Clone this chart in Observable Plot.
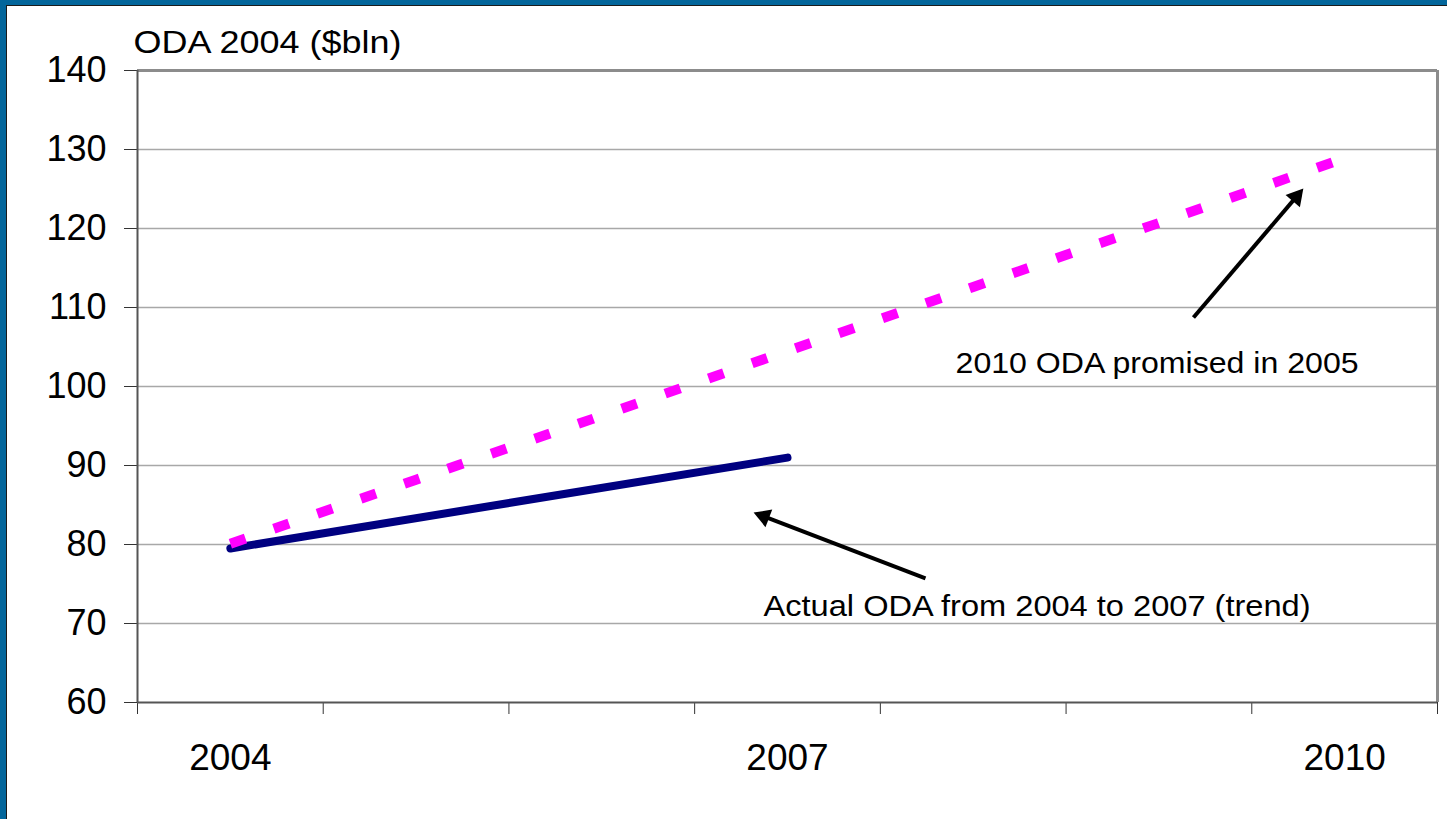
<!DOCTYPE html>
<html><head><meta charset="utf-8">
<script src="https://cdn.jsdelivr.net/npm/d3@7"></script>
<script src="https://cdn.jsdelivr.net/npm/@observablehq/plot@0.6"></script>
<style>
html,body{margin:0;padding:0;background:#fff;}
#frame{width:1447px;height:819px;box-sizing:border-box;border-left:6px solid #03669b;border-top:5px solid #03669b;overflow:hidden}
#inner{width:100%;height:100%;box-sizing:border-box;border-left:1px solid #1b1b1b;border-top:1px solid #1b1b1b;}
svg{display:block}
</style></head><body><div id="frame"><div id="inner"></div></div>
<script>
// ---- data ----
const years = [2004, 2005, 2006, 2007, 2008, 2009, 2010];
const promised = [80.1, 88.2, 96.3, 104.5, 112.6, 120.7, 128.9];
const actualYears = [2004, 2007];
const actual = [79.5, 91.0];
const yTicks = [60, 70, 80, 90, 100, 110, 120, 130, 140];
const xLabels = [2004, 2007, 2010];
const yTitle = "ODA 2004 ($bln)";
const notes = ["2010 ODA promised in 2005", "Actual ODA from 2004 to 2007 (trend)"];
const noteX = [2007.905, 2006.871];
const noteY = [101.77, 71.0];
const arrowX1 = [2009.186, 2007.743];
const arrowY1 = [108.73, 75.70];
const arrowX2 = [2009.778, 2006.817];
const arrowY2 = [125.06, 84.05];

// ---- layout ----
const W = 1440, H = 813;
const mL = 130, mR = 10, mT = 64, mB = 117;
const xDomain = [2003.5, 2010.5];
const yDomain = [60, 140];
const boundaries = d3.range(xDomain[0], xDomain[1] + 0.01, 1);

const sx = d3.scaleLinear(xDomain, [mL, W - mR]);
const sy = d3.scaleLinear(yDomain, [H - mB, mT]);

const promisedData = years.map((y, i) => ({year: y, value: promised[i]}));
const actualData = actualYears.map((y, i) => ({year: y, value: actual[i]}));
const noteData = notes.map((t, i) => ({t, x: noteX[i], y: noteY[i]}));
const arrows = arrowX1.map((_, i) => {
  const px1 = sx(arrowX1[i]), py1 = sy(arrowY1[i]);
  const px2 = sx(arrowX2[i]), py2 = sy(arrowY2[i]);
  const dx = px2 - px1, dy = py2 - py1, L = Math.hypot(dx, dy);
  const ux = dx / L, uy = dy / L;
  const back = 11;
  return {
    x1: arrowX1[i], y1: arrowY1[i],
    cx: sx.invert(px2 - ux * back), cy: sy.invert(py2 - uy * back),
    angle: Math.atan2(ux, -uy) * 180 / Math.PI
  };
});

const font = "'Liberation Sans', Arial, sans-serif";

const chart = Plot.plot({
  width: W, height: H,
  marginLeft: mL, marginRight: mR, marginTop: mT, marginBottom: mB,
  style: {fontFamily: font, color: "#000", background: "transparent", overflow: "visible"},
  x: {domain: xDomain, axis: null},
  y: {domain: yDomain, axis: null},
  marks: [
    Plot.ruleY(yTicks.filter(d => d > yDomain[0] && d < yDomain[1]), {stroke: "#a8a8a8", strokeWidth: 1.5}),
    Plot.ruleY([yDomain[1]], {stroke: "#8c8c8c", strokeWidth: 3}),
    Plot.ruleX([xDomain[1]], {stroke: "#8c8c8c", strokeWidth: 3}),
    Plot.axisY({ticks: yTicks, tickSize: 13, tickPadding: 18, fontSize: 36, tickFormat: d => String(d), label: null, stroke: "#333"}),
    Plot.axisX({ticks: boundaries, tickSize: 12, tickFormat: () => "", label: null, stroke: "#333"}),
    Plot.axisX({ticks: xLabels, tickSize: 0, tickPadding: 41, fontSize: 37, tickFormat: d => String(d), label: null}),
    Plot.ruleX([xDomain[0]], {stroke: "#555", strokeWidth: 2}),
    Plot.ruleY([yDomain[0]], {stroke: "#555", strokeWidth: 2}),
    Plot.line(actualData, {x: "year", y: "value", stroke: "#000080", strokeWidth: 8, strokeLinecap: "round"}),
    Plot.line(promisedData, {x: "year", y: "value", stroke: "#ff00ff", strokeWidth: 10, strokeDasharray: "16,30", strokeLinecap: "butt"}),
    Plot.link(arrows, {x1: "x1", y1: "y1", x2: "cx", y2: "cy", stroke: "#000", strokeWidth: 4}),
    Plot.dot(arrows, {x: "cx", y: "cy", symbol: "triangle", r: 7, fill: "#000", stroke: null, rotate: "angle"}),
    Plot.text(noteData, {x: "x", y: "y", text: "t", textAnchor: "start", lineAnchor: "bottom", fontSize: 29, fill: "#000"}),
    Plot.text([yTitle], {frameAnchor: "top-left", dx: -4, dy: -18, textAnchor: "start", lineAnchor: "bottom", fontSize: 31, fill: "#000"})
  ]
});

// horizontal stretch of the annotation texts as in the reference
const stretch = {[yTitle]: 268, [notes[0]]: 403, [notes[1]]: 547};
chart.querySelectorAll("text").forEach(t => {
  const w = stretch[t.textContent];
  if (w) { t.setAttribute("textLength", w); t.setAttribute("lengthAdjust", "spacingAndGlyphs"); }
});
document.getElementById("inner").appendChild(chart);
</script>
</body></html>
